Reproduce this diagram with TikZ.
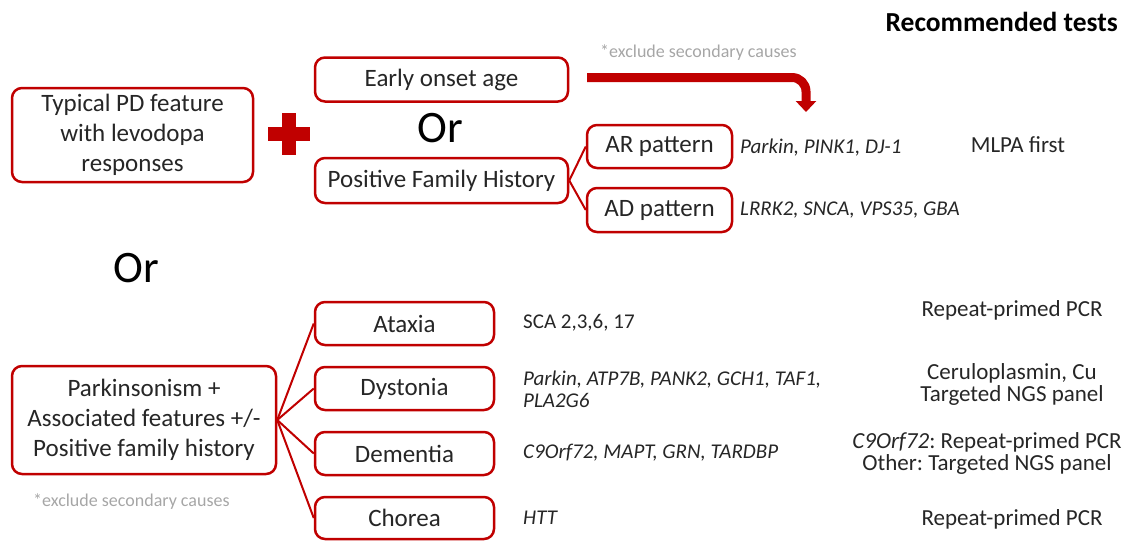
\documentclass[tikz,border=0pt]{standalone}
\usepackage{fontspec}
\setmainfont{Carlito}
\frenchspacing
\usetikzlibrary{arrows.meta}
\definecolor{pdred}{HTML}{C00000}
\definecolor{txt}{HTML}{262626}
\definecolor{notegray}{HTML}{A6A6A6}
\begin{document}
\begin{tikzpicture}[x=1pt,y=-1pt,
  box/.style={draw=pdred, line width=2.5pt, rounded corners=10pt, fill=white,
    align=center, text=txt, font=\fontsize{25}{30}\selectfont, inner sep=0pt},
  link/.style={draw=pdred, line width=2pt},
  gene/.style={anchor=west, text=txt, font=\fontsize{21}{22}\selectfont\itshape,
    inner sep=0pt, align=left},
  plain/.style={anchor=west, text=txt, font=\fontsize{21}{22}\selectfont,
    inner sep=0pt, align=left},
  test/.style={text=txt, font=\fontsize{23}{22}\selectfont, inner sep=0pt, align=center},
  notetxt/.style={anchor=west, text=notegray, font=\fontsize{18}{18}\selectfont, inner sep=0pt},
  ortxt/.style={text=black, font=\fontsize{45}{45}\selectfont, inner sep=0pt},
  bigarrow/.style={draw=pdred, line width=9pt, rounded corners=14pt,
    -{Triangle[width=20pt,length=11pt]}}
]
\useasboundingbox (0,0) rectangle (1137,541);

% heading
\node[anchor=east, text=black, font=\bfseries\fontsize{27.5}{27.5}\selectfont, inner sep=0pt] (rec) at (1118,22) {Recommended tests};

% upper branch
\node[box, minimum width=241pt, minimum height=94pt] (pd) at (132.5,135) {Typical PD feature\\with levodopa\\responses};
\fill[pdred] (268,127) rectangle (310,141);
\fill[pdred] (282,113) rectangle (296,155);
\node[box, minimum width=253pt, minimum height=44pt] (eo) at (441.5,79.5) {Early onset age};
\node[ortxt] (or1) at (440,128) {Or};
\node[box, minimum width=253pt, minimum height=45pt] (pfh) at (441.5,180.5) {Positive Family History};
\node[box, minimum width=145pt, minimum height=43pt] (ar) at (659.5,146.5) {AR pattern};
\node[box, minimum width=145pt, minimum height=44pt] (ad) at (659.5,210) {AD pattern};
\draw[link] (pfh.east) -- (ar.west);
\draw[link] (pfh.east) -- (ad.west);

\node[notetxt] (note1) at (600,53) {*exclude secondary causes};
\coordinate (arrS) at (587,77.5);
\coordinate (arrE) at (806,112);
\draw[bigarrow] (arrS) -| (arrE);

\node[gene] (gar) at (740,148) {Parkin, PINK1, DJ-1};
\node[gene] (gad) at (740,210) {LRRK2, SNCA, VPS35, GBA};
\node[test] (mlpa) at (1018,145) {MLPA first};

% middle Or
\node[ortxt] (or2) at (136,268) {Or};

% lower branch
\node[box, minimum width=264pt, minimum height=108pt] (pk) at (144,420) {Parkinsonism +\\Associated features +/-\\Positive family history};
\node[notetxt] (note2) at (33,502) {*exclude secondary causes};

\node[box, minimum width=179pt, minimum height=43pt] (ataxia) at (404.5,323.5) {Ataxia};
\node[box, minimum width=179pt, minimum height=43pt] (dyst) at (404.5,388.5) {Dystonia};
\node[box, minimum width=179pt, minimum height=43pt] (dem) at (404.5,453.5) {Dementia};
\node[box, minimum width=179pt, minimum height=42pt] (chor) at (404.5,518) {Chorea};
\foreach \t in {ataxia,dyst,dem,chor} \draw[link] (pk.east) -- (\t.west);

\node[plain] (g1) at (523,323) {SCA 2,3,6, 17};
\node[gene] (g2) at (523,389) {Parkin, ATP7B, PANK2, GCH1, TAF1,\\PLA2G6};
\node[gene] (g3) at (523,453) {C9Orf72, MAPT, GRN, TARDBP};
\node[gene] (g4) at (523,518) {HTT};

\node[test] (t1) at (1012,310) {Repeat-primed PCR};
\node[test] (t2) at (1012,384) {Ceruloplasmin, Cu\\Targeted NGS panel};
\node[test] (t3) at (987,453) {\textit{C9Orf72}: Repeat-primed PCR\\Other: Targeted NGS panel};
\node[test] (t4) at (1012,519) {Repeat-primed PCR};
\end{tikzpicture}
\end{document}
